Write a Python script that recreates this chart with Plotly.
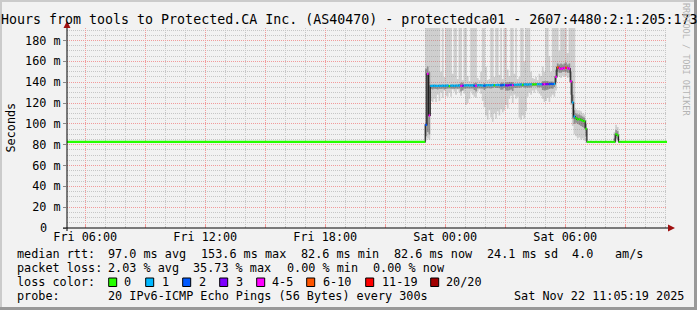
import plotly.graph_objects as go
import pandas as pd

# ---------------- data ----------------
T_START = "2025-11-21 05:05:19"
T_END = "2025-11-22 11:05:19"
FLAT_BEFORE = 82.6          # median (ms) from start up to first listed step
FLAT_AFTER = 82.6           # median (ms) after last listed step
STEP_START = "2025-11-21 23:00:00"   # first listed 5-minute step

MED = [99.0, 148.0, 108.0,
       136.5, 136.5, 136.6, 136.5, 136.4, 136.6, 136.5, 136.7, 136.5, 136.6,
       136.8, 136.2, 136.6, 136.7, 136.5, 136.8, 136.6, 136.9, 136.4, 136.6,
       136.8, 136.9, 137.0, 136.8, 137.0, 136.9, 136.6, 136.5, 137.0, 137.1,
       137.0, 136.8, 136.6, 137.0, 137.2, 137.1, 137.0, 137.3, 136.9, 137.3,
       137.4, 137.2, 137.0, 137.1, 137.5, 137.0, 136.8, 137.2, 137.4, 137.0,
       137.6, 137.5, 137.7, 137.6, 137.8, 137.4, 137.8, 137.9, 137.7, 137.9,
       138.0, 137.8, 137.9, 138.0, 138.1, 138.0, 138.2, 137.9, 138.0, 138.1,
       138.2, 138.1, 138.3, 138.2, 138.4,
       145.0, 154.2, 153.4, 152.8, 153.2, 153.6, 154.0, 153.4, 153.0,
       140.7, 120.5, 107.0, 105.5, 104.2, 104.6, 103.8, 103.0, 102.5, 95.3,
       82.6, 82.6, 82.6, 82.6, 82.6, 82.6, 82.6, 82.6, 82.6, 82.6, 82.6, 82.6, 82.6, 82.6, 82.6, 82.6,
       82.6, 90.0, 89.0, 82.6, 82.6]

LOSS = [2, 4, 5,
        1, 1, 1, 1, 1, 1, 1, 1, 1, 1,
        1, 0, 1, 1, 1, 1, 1, 1, 4, 3,
        1, 1, 1, 1, 1, 1, 2, 4, 1, 1,
        1, 1, 2, 1, 1, 1, 1, 1, 0, 1,
        1, 1, 2, 2, 1, 3, 3, 3, 2, 4,
        1, 1, 1, 1, 1, 0, 1, 1, 1, 1,
        1, 0, 0, 0, 1, 1, 1, 3, 4, 3,
        3, 2, 2, 2, 1,
        4, 6, 5, 5, 5, 4, 7, 5, 4,
        4, 1, 1, 0, 0, 0, 0, 0, 0, 0,
        0, 0, 0, 0, 0, 0, 0, 0, 0, 0, 0, 0, 0, 0, 0, 0,
        0, 0, 0, 0, 0]

SMOKE_MIN = [84, 86, 85,
             122, 121, 124, 121, 128, 122, 130, 125, 132, 127,
             126, 130, 126, 133, 131, 128, 133, 130, 127, 132,
             129, 118, 120, 124, 131, 128, 126, 125, 131, 133,
             129, 122, 116, 108, 104, 113, 106, 102, 110, 105,
             112, 108, 114, 111, 113, 118, 115, 124, 127, 120,
             128, 124, 126, 106, 104, 108, 105, 112, 126, 130,
             128, 132, 130, 133, 131, 129, 127, 124, 121, 122,
             125, 121, 126, 128, 126,
             132, 146, 145, 144, 146, 145, 146, 144, 145,
             118, 98, 90, 88, 86, 87, 85, 86, 84, 83,
             82.6, 82.6, 82.6, 82.6, 82.6, 82.6, 82.6, 82.6, 82.6, 82.6, 82.6, 82.6, 82.6, 82.6, 82.6, 82.6,
             82.6, 83, 83, 82.6, 82.6]

SMOKE_LOW = [88, 92, 90,
             133.5, 133, 133.6, 133.5, 133, 133.6, 133.5, 133.7, 133, 133.6,
             133.8, 134, 133.6, 133.7, 133.5, 133.8, 133.6, 133.9, 131, 132,
             133.8, 133.9, 134, 133.8, 134, 133.9, 132.5, 131, 134, 134.1,
             134, 133.8, 132.5, 134, 134.2, 134.1, 134, 134.3, 135, 134.3,
             134.4, 134.2, 132.8, 132.9, 134.5, 132, 131.8, 132.2, 133, 131.5,
             134.6, 134.5, 134.7, 134.6, 134.8, 135.4, 134.8, 134.9, 134.7, 134.9,
             135, 136, 136.1, 136.2, 135.1, 135, 135.2, 132.5, 132, 132.6,
             132.7, 133.5, 133.8, 133.7, 135.4,
             140, 150, 149, 149, 150, 150, 150, 149, 149,
             128, 105, 100, 101, 100, 99, 98, 97, 96, 88,
             82.6, 82.6, 82.6, 82.6, 82.6, 82.6, 82.6, 82.6, 82.6, 82.6, 82.6, 82.6, 82.6, 82.6, 82.6, 82.6,
             83, 86, 85, 82.6, 82.6]

SMOKE_HIGH = [153, 155, 150,
              137.5, 137.5, 137.6, 137.5, 137.4, 137.6, 137.5, 137.7, 137.5, 137.6,
              137.8, 137.2, 137.6, 137.7, 137.5, 137.8, 137.6, 137.9, 139.5, 139.5,
              137.8, 137.9, 138.0, 137.8, 138.0, 137.9, 139.0, 139.5, 138.0, 138.1,
              138.0, 137.8, 139.0, 138.0, 138.2, 138.1, 138.0, 138.3, 137.9, 138.3,
              138.4, 138.2, 139.5, 139.6, 138.5, 140.0, 139.8, 140.2, 139.9, 140.0,
              138.6, 138.5, 138.7, 138.6, 138.8, 138.4, 138.8, 138.9, 138.7, 138.9,
              139.0, 138.8, 138.9, 139.0, 139.1, 139.0, 139.2, 141.0, 141.2, 141.1,
              141.2, 140.5, 140.7, 140.6, 139.4,
              152, 158, 157, 158, 157, 158, 159, 157, 158,
              150, 128, 113, 110, 109, 109, 108, 107, 106, 100,
              82.6, 82.6, 82.6, 82.6, 82.6, 82.6, 82.6, 82.6, 82.6, 82.6, 82.6, 82.6, 82.6, 82.6, 82.6, 82.6,
              86, 94, 93, 82.6, 82.6]

SMOKE_MAX = [200, 200, 200,
             200, 200, 200, 200, 200, 200, 150, 200, 145, 200,
             200, 200, 200, 148, 200, 200, 143, 200, 200, 142,
             200, 200, 146, 141, 200, 200, 200, 200, 144, 142,
             150, 200, 200, 155, 142, 143, 200, 200, 145, 200,
             200, 147, 200, 143, 200, 200, 152, 146, 200, 200,
             148, 200, 143, 145, 200, 200, 160, 200, 200, 200,
             150, 144, 143, 145, 142, 148, 146, 155, 150, 200,
             200, 165, 150, 200, 200,
             200, 200, 170, 200, 200, 200, 200, 168, 200,
             200, 200, 200, 114, 113, 113, 112, 110, 109, 104,
             82.6, 82.6, 82.6, 82.6, 82.6, 82.6, 82.6, 82.6, 82.6, 82.6, 82.6, 82.6, 82.6, 82.6, 82.6, 82.6,
             92, 99, 97, 82.6, 82.6]

LOSS_LABELS = ["0", "1", "2", "3", "4-5", "6-10", "11-19", "20/20"]
LOSS_MAX = [0, 1, 2, 3, 5, 10, 19, 20]
LOSS_COLORS = ["#26ff00", "#00b8ff", "#0059ff", "#7e00ff", "#ff00ff", "#ff5500", "#ff0000", "#a10000"]

X_TICK_VALS = ["2025-11-21 06:00", "2025-11-21 09:00", "2025-11-21 12:00", "2025-11-21 15:00",
               "2025-11-21 18:00", "2025-11-21 21:00", "2025-11-22 00:00", "2025-11-22 03:00",
               "2025-11-22 06:00", "2025-11-22 09:00"]
X_TICK_TEXT = ["Fri 06:00", "", "Fri 12:00", "", "Fri 18:00", "", "Sat 00:00", "", "Sat 06:00", ""]
Y_TICK_VALS = [0, 20, 40, 60, 80, 100, 120, 140, 160, 180]
Y_TICK_TEXT = ["", "20 m", "40 m", "60 m", "80 m", "100 m", "120 m", "140 m", "160 m", "180 m"]
Y_ZERO_LABEL = "0"

TITLE = "Hours from tools to Protected.CA Inc. (AS40470) - protectedca01 - 2607:4480:2:1:205:173"
LINE_RTT = [(16, "median rtt:"), (107, "97.0 ms avg"), (199.5, "153.6 ms max"), (299.5, "82.6 ms min"),
            (393, "82.6 ms now"), (486, "24.1 ms sd"), (571, "4.0"), (613.5, "am/s")]
LINE_LOSS = [(16, "packet loss:"), (107, "2.03 % avg"), (192, "35.73 % max"), (285.5, "0.00 % min"),
             (372, "0.00 % now")]
LOSS_COLOR_TITLE = "loss color:"
LINE_PROBE = [(16, "probe:"), (107, "20 IPv6-ICMP Echo Pings (56 Bytes) every 300s"),
              (513, "Sat Nov 22 11:05:19 2025")]
WATERMARK = "RRDTOOL / TOBI OETIKER"

# ---------------- layout constants ----------------
W, H = 697, 310
L, R, T, B = 67, 30, 28, 82
PW, PH = W - L - R, H - T - B
FONT = "DejaVu Sans Mono"
BG = "#f2f2f2"
MAJOR_GRID = "#f29a9a"
MINOR_GRID = "#c6c6c6"


def px_x(px):
    return (px - L) / PW


def px_y(py):
    return (H - B - py) / PH


def loss_color(n):
    for mx, c in zip(LOSS_MAX, LOSS_COLORS):
        if n <= mx:
            return c
    return LOSS_COLORS[-1]


assert len(MED) == len(LOSS) == len(SMOKE_MIN) == len(SMOKE_LOW) == len(SMOKE_HIGH) == len(SMOKE_MAX)

step = pd.Timedelta(minutes=5)
times = list(pd.date_range(STEP_START, periods=len(MED), freq="5min"))
step_end = times[-1] + step
centers = [t + step / 2 for t in times]

fig = go.Figure()

# smoke
fig.add_trace(go.Bar(x=centers, base=SMOKE_MIN, y=[b - a for a, b in zip(SMOKE_MIN, SMOKE_MAX)],
                     width=300000, marker=dict(color="rgba(140,140,140,0.36)", line=dict(width=0)),
                     hoverinfo="skip", showlegend=False))
fig.add_trace(go.Bar(x=centers, base=SMOKE_LOW, y=[b - a for a, b in zip(SMOKE_LOW, SMOKE_HIGH)],
                     width=300000, marker=dict(color="rgba(60,60,60,0.42)", line=dict(width=0)),
                     hoverinfo="skip", showlegend=False))

# black median step line
bx = [pd.Timestamp(T_START)] + times + [step_end, pd.Timestamp(T_END)]
by = [FLAT_BEFORE] + MED + [FLAT_AFTER, FLAT_AFTER]
fig.add_trace(go.Scatter(x=bx, y=by, mode="lines", line=dict(color="#202020", width=1.2, shape="hv"),
                         hoverinfo="skip", showlegend=False))

# coloured (by loss) median segments
seg_t0 = [pd.Timestamp(T_START)] + times + [step_end]
seg_t1 = times + [step_end, pd.Timestamp(T_END)]
seg_v = [FLAT_BEFORE] + MED + [FLAT_AFTER]
seg_l = [0] + LOSS + [0]
for c in LOSS_COLORS:
    xs, ys = [], []
    for a, b, v, n in zip(seg_t0, seg_t1, seg_v, seg_l):
        if loss_color(n) == c:
            xs += [a, b, None]
            ys += [v, v, None]
    if xs:
        fig.add_trace(go.Scatter(x=xs, y=ys, mode="lines", line=dict(color=c, width=2.2),
                                 hoverinfo="skip", showlegend=False))

shapes = []
# frame
shapes.append(dict(type="rect", xref="paper", yref="paper", x0=px_x(0), x1=px_x(W), y0=px_y(2), y1=px_y(0),
                   fillcolor="#cbcbcb", line=dict(width=0), layer="above"))
shapes.append(dict(type="rect", xref="paper", yref="paper", x0=px_x(0), x1=px_x(2), y0=px_y(H), y1=px_y(0),
                   fillcolor="#cbcbcb", line=dict(width=0), layer="above"))
shapes.append(dict(type="rect", xref="paper", yref="paper", x0=px_x(0), x1=px_x(W), y0=px_y(H), y1=px_y(H - 3),
                   fillcolor="#999999", line=dict(width=0), layer="above"))
shapes.append(dict(type="rect", xref="paper", yref="paper", x0=px_x(W - 3), x1=px_x(W), y0=px_y(H), y1=px_y(0),
                   fillcolor="#999999", line=dict(width=0), layer="above"))
# axes
shapes.append(dict(type="line", xref="paper", yref="paper", x0=px_x(63), x1=px_x(669), y0=0, y1=0,
                   line=dict(color="#000000", width=1), layer="above"))
shapes.append(dict(type="line", xref="paper", yref="paper", x0=0, x1=0, y0=px_y(231), y1=px_y(25),
                   line=dict(color="#000000", width=1), layer="above"))
shapes.append(dict(type="path", xref="paper", yref="paper",
                   path=f"M {px_x(668)} {px_y(224.5)} L {px_x(675)} {px_y(228)} L {px_x(668)} {px_y(231.5)} Z",
                   fillcolor="#a01010", line=dict(width=0), layer="above"))
shapes.append(dict(type="path", xref="paper", yref="paper",
                   path=f"M {px_x(63.5)} {px_y(28)} L {px_x(67)} {px_y(21)} L {px_x(70.5)} {px_y(28)} Z",
                   fillcolor="#a01010", line=dict(width=0), layer="above"))

annotations = []


def ann(px, py, text, size=11.8, anchor="left", angle=0, color="#000000"):
    annotations.append(dict(x=px_x(px), y=px_y(py), xref="paper", yref="paper", text=text,
                            showarrow=False, xanchor=anchor, yanchor="middle", borderpad=0,
                            textangle=angle, font=dict(family=FONT, size=size, color=color)))


ann(0, 19, TITLE, size=13.3)
ann(10, 127.5, "Seconds", anchor="center", angle=-90)
ann(686, 59, WATERMARK, size=8.5, anchor="center", angle=90, color="#b4b4b4")
ann(47.5, 228, Y_ZERO_LABEL, anchor="right")
for x0, t in LINE_RTT:
    ann(x0, 254.3, t)
for x0, t in LINE_LOSS:
    ann(x0, 268.3, t)
ann(16, 282.3, LOSS_COLOR_TITLE)
SW_X = [108.7, 145.7, 182.7, 219.7, 256.7, 306.7, 365.7, 430.7]
LB_X = [123, 160.5, 197.5, 234.5, 270.5, 321.5, 380.5, 445]
for sx, lx, lab, c in zip(SW_X, LB_X, LOSS_LABELS, LOSS_COLORS):
    shapes.append(dict(type="rect", xref="paper", yref="paper", x0=px_x(sx), x1=px_x(sx + 8),
                       y0=px_y(286.5), y1=px_y(278), fillcolor=c, line=dict(color="#000000", width=1),
                       layer="above"))
    ann(lx, 282.3, lab)
for x0, t in LINE_PROBE:
    ann(x0, 296, t)

fig.update_layout(
    width=W, height=H, margin=dict(l=L, r=R, t=T, b=B, pad=0),
    paper_bgcolor=BG, plot_bgcolor=BG, barmode="overlay", showlegend=False,
    font=dict(family=FONT, size=11.8, color="#000000"),
    shapes=shapes, annotations=annotations,
    xaxis=dict(type="date", range=[T_START, T_END], tickmode="array", tickvals=X_TICK_VALS,
               ticktext=X_TICK_TEXT, showgrid=True, gridcolor=MAJOR_GRID, griddash="1px,1px",
               gridwidth=1, ticks="inside", ticklen=3, tickcolor=MAJOR_GRID, showline=False,
               zeroline=False, tickfont=dict(family=FONT, size=11.8, color="#000000"),
               minor=dict(tickmode="linear", tick0="2025-11-21 00:00", dtick=3600000, showgrid=True,
                          gridcolor=MINOR_GRID, griddash="1px,1px", ticks="inside", ticklen=2,
                          tickcolor=MINOR_GRID)),
    yaxis=dict(range=[0, 192], tickmode="array", tickvals=Y_TICK_VALS, ticktext=Y_TICK_TEXT,
               showgrid=True, gridcolor=MAJOR_GRID, griddash="1px,1px", gridwidth=1,
               ticks="outside", ticklen=3, tickcolor="#888888", showline=False, zeroline=False,
               tickfont=dict(family=FONT, size=11.8, color="#000000"),
               minor=dict(tickmode="linear", tick0=0, dtick=5, showgrid=True, gridcolor=MINOR_GRID,
                          griddash="1px,1px")),
)

fig.write_html("out.html")
